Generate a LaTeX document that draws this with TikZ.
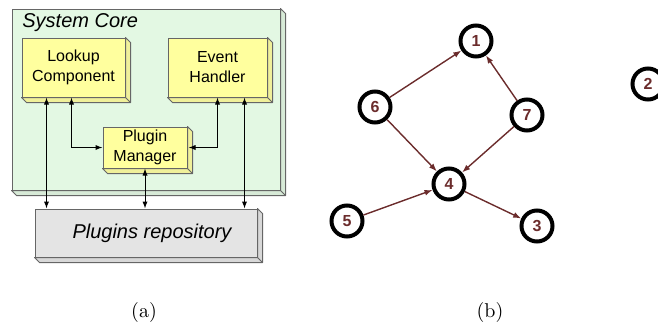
\documentclass[tikz,border=0pt]{standalone}
\usepackage{fontspec}
\newfontfamily\arialf{Liberation Sans}
\usetikzlibrary{arrows.meta}
\definecolor{coregreen}{HTML}{E3F8E3}
\definecolor{boxyellow}{HTML}{FFFF9E}
\definecolor{repogray}{HTML}{E4E4E4}
\definecolor{edgegray}{HTML}{666666}
\definecolor{graphred}{HTML}{6B2C2C}
\newcommand{\extrude}[2]{%
  \filldraw[fill=#2, draw=edgegray, line width=0.5pt, line join=round]
    (#1.north east) -- ++(5,5) -- ([shift={(5,5)}]#1.south east)
    -- ([shift={(5,5)}]#1.south west) -- (#1.south west) -- (#1.south east) -- cycle;
  \draw[draw=edgegray, line width=0.5pt] (#1.south east) -- ++(5,5);
}
\begin{document}
\begin{tikzpicture}[x=0.5pt,y=-0.5pt,
  box/.style={draw=edgegray, line width=0.5pt, inner sep=0pt, align=center,
    font=\arialf\fontsize{8}{10}\selectfont},
  arr/.style={line width=0.5pt, {Latex[length=3.5pt,width=2.6pt]}-{Latex[length=3.5pt,width=2.6pt]}},
  gnode/.style={circle, draw=black, line width=2pt, fill=white, minimum size=15.5pt,
    inner sep=0pt, text=graphred, font=\arialf\bfseries\fontsize{8}{9}\selectfont},
  gedge/.style={draw=graphred, line width=0.7pt, -{Latex[length=4pt,width=3pt]}}]
\useasboundingbox (0,0) rectangle (658,327);

% ---------- (a) ----------
\node[box, fill=coregreen, minimum width=134pt, minimum height=90.5pt] (core) at (146,99.5) {};
\extrude{core}{coregreen!88!gray}
\node[anchor=west, inner sep=0pt, font=\arialf\itshape\fontsize{10}{12}\selectfont] (corelbl) at (22,23) {System Core};

\node[box, fill=boxyellow, minimum width=51.5pt, minimum height=29.5pt] (lk) at (73.5,67.5) {Lookup\\Component};
\extrude{lk}{boxyellow!88!gray}
\node[box, fill=boxyellow, minimum width=49.5pt, minimum height=29.5pt] (eh) at (217.5,67.5) {Event\\Handler};
\extrude{eh}{boxyellow!88!gray}
\node[box, fill=boxyellow, minimum width=42pt, minimum height=20.5pt] (pm) at (145,147.5) {Plugin\\Manager};
\extrude{pm}{boxyellow!88!gray}
\node[box, fill=repogray, minimum width=111pt, minimum height=24pt,
  font=\arialf\itshape\fontsize{10}{12}\selectfont] (repo) at (146,233) {\hspace*{6pt}Plugins repository};
\extrude{repo}{repogray!88!gray}

\draw[arr] ([xshift=12.5pt]lk.south west) -- ([xshift=12.5pt]lk.south west |- repo.north);
\draw[arr] ([xshift=25pt]lk.south west) |- (pm.west);
\draw[arr] (eh.south) |- ([xshift=0.5pt]pm.east);
\draw[arr] ([xshift=38.5pt]eh.south west) -- ([xshift=38.5pt]eh.south west |- repo.north);
\draw[arr] (pm.south) -- (pm.south |- repo.north);

\node[font=\rmfamily\fontsize{10}{12}\selectfont] (capa) at (144,312) {(a)};

% ---------- (b) ----------
\node[gnode] (n1) at (476,41) {1};
\node[gnode] (n6) at (375,107) {6};
\node[gnode] (n7) at (527,115) {7};
\node[gnode] (n4) at (449,184) {4};
\node[gnode] (n5) at (347,221) {5};
\node[gnode] (n3) at (537,226) {3};
\node[gnode] (n2) at (648,84) {2};

\draw[gedge] (n6) -- (n1);
\draw[gedge] (n7) -- (n1);
\draw[gedge] (n6) -- (n4);
\draw[gedge] (n7) -- (n4);
\draw[gedge] (n5) -- (n4);
\draw[gedge] (n4) -- (n3);

\node[font=\rmfamily\fontsize{10}{12}\selectfont] (capb) at (490,312) {(b)};
\end{tikzpicture}
\end{document}
